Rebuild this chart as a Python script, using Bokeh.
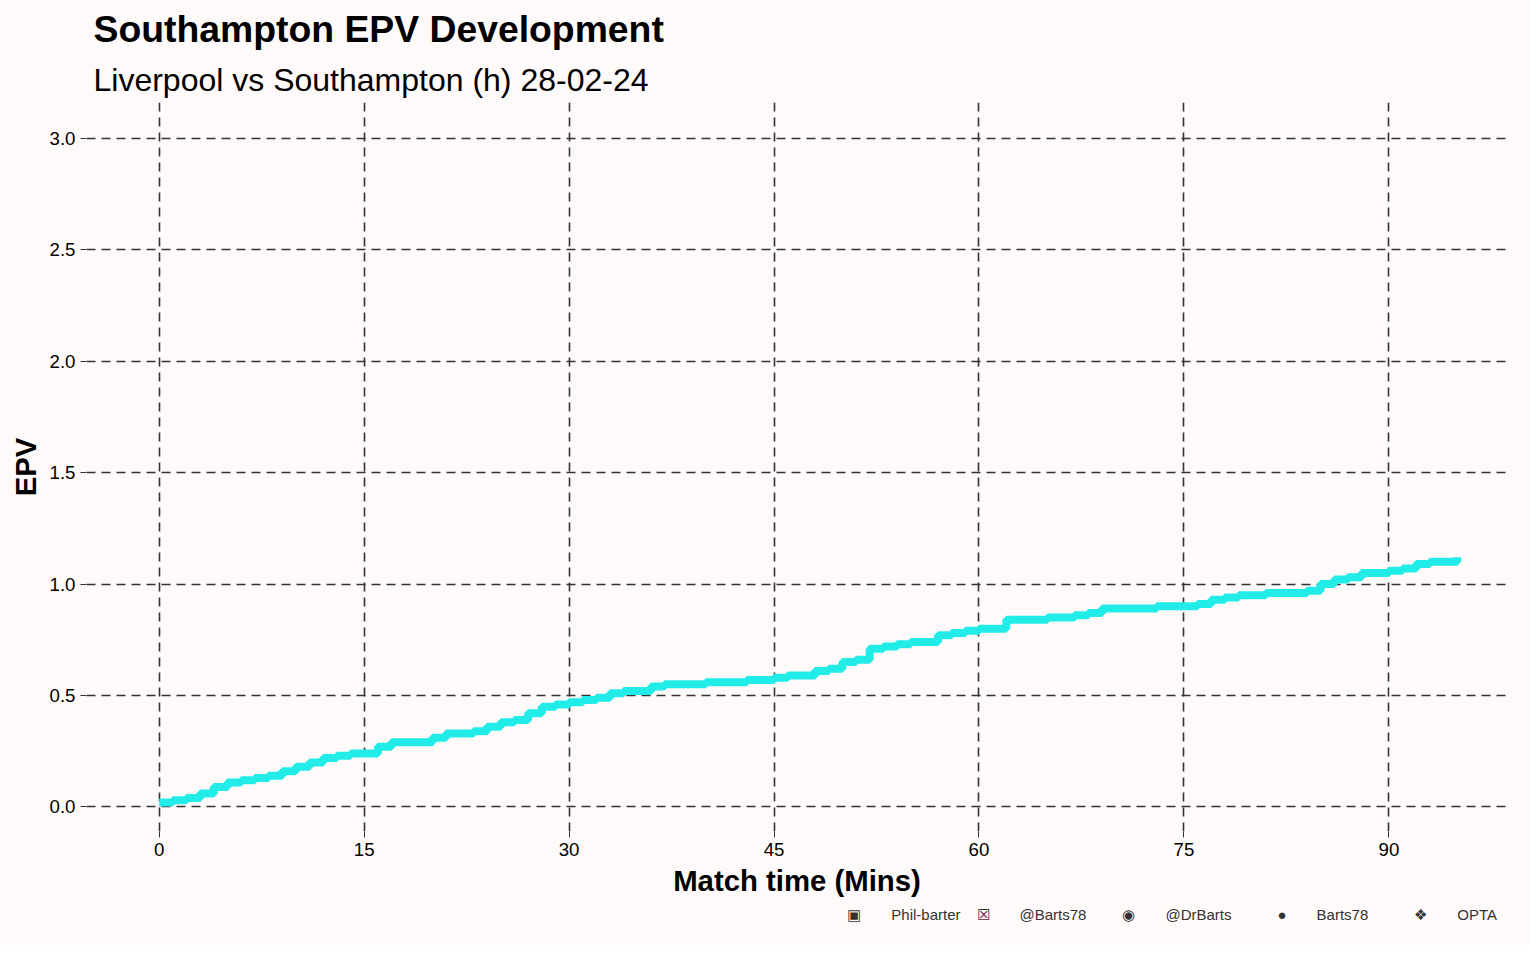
from bokeh.plotting import figure
from bokeh.models import Range1d, FixedTicker, Div, Title
from bokeh.layouts import column
from bokeh.embed import file_html
from bokeh.resources import INLINE

minutes = [0, 1, 2, 3, 4, 5, 6, 7, 8, 9, 10, 11, 12, 13, 14, 16, 17, 20, 21, 23, 24, 25, 26, 27,
           28, 29, 30, 31, 32, 33, 34, 36, 37, 40, 43, 45, 46, 48, 49, 50, 51, 52, 53, 54, 55,
           57, 58, 59, 60, 62, 65, 67, 68, 69, 73, 76, 77, 78, 79, 81, 84, 85, 86, 87, 88, 90,
           91, 92, 93, 95]
epv = [0.02, 0.03, 0.04, 0.06, 0.09, 0.11, 0.12, 0.13, 0.14, 0.16, 0.18, 0.20, 0.22, 0.23, 0.24,
       0.27, 0.29, 0.31, 0.33, 0.34, 0.36, 0.38, 0.39, 0.42, 0.45, 0.46, 0.47, 0.48, 0.49, 0.51,
       0.52, 0.54, 0.55, 0.56, 0.57, 0.58, 0.59, 0.61, 0.62, 0.65, 0.66, 0.71, 0.72, 0.73, 0.74,
       0.77, 0.78, 0.79, 0.80, 0.84, 0.85, 0.86, 0.87, 0.89, 0.90, 0.91, 0.93, 0.94, 0.95, 0.96,
       0.97, 1.00, 1.02, 1.03, 1.05, 1.06, 1.07, 1.09, 1.10, 1.12]
x_ticks = [0, 15, 30, 45, 60, 75, 90]
y_ticks = [0.0, 0.5, 1.0, 1.5, 2.0, 2.5, 3.0]

bg = "#fffafa"
font = "Liberation Sans"

p = figure(width=1520, height=899, output_backend="svg", toolbar_location=None,
           x_range=Range1d(-5.32, 98.68), y_range=Range1d(-0.11, 3.16),
           background_fill_color=bg, border_fill_color=bg, outline_line_color=None,
           min_border_left=86, min_border_right=13, min_border_top=28)

p.add_layout(Title(text="Liverpool vs Southampton (h) 28-02-24", text_font=font,
                   text_font_size="24pt", text_font_style="normal", text_color="black",
                   offset=7), "above")
p.add_layout(Title(text="Southampton EPV Development", text_font=font,
                   text_font_size="28pt", text_font_style="bold", text_color="black",
                   offset=7), "above")

p.step(minutes, epv, mode="after", line_color="#22ece8", line_width=8)

for ax in (p.xaxis, p.yaxis):
    ax.axis_line_color = None
    ax.major_tick_line_color = "#333333"
    ax.major_tick_out = 6
    ax.major_tick_in = 0
    ax.minor_tick_line_color = None
    ax.major_label_text_font = font
    ax.major_label_text_font_size = "14pt"
    ax.major_label_text_color = "black"
    ax.axis_label_text_font = font
    ax.axis_label_text_font_size = "22pt"
    ax.axis_label_text_font_style = "bold"
    ax.axis_label_text_color = "black"
p.xaxis.ticker = FixedTicker(ticks=x_ticks)
p.yaxis.ticker = FixedTicker(ticks=y_ticks)
p.yaxis.major_label_overrides = {t: f"{t:.1f}" for t in y_ticks}
p.xaxis.axis_label = "Match time (Mins)"
p.yaxis.axis_label = "EPV"

for g in (p.xgrid, p.ygrid):
    g.grid_line_color = "#333333"
    g.grid_line_dash = "9 6"
    g.grid_line_width = 1.6

footer = Div(text=(
    '<div style="width:1492px;text-align:right;font-family:Liberation Sans,Arial;'
    'font-size:15px;color:#333">'
    '<span style="margin-right:30px">&#9635;</span><span style="margin-right:16px">Phil-barter</span>'
    '<span style="margin-right:30px">&#9746;</span><span style="margin-right:36px">@Barts78</span>'
    '<span style="margin-right:30px">&#9673;</span><span style="margin-right:46px">@DrBarts</span>'
    '<span style="margin-right:30px">&#9679;</span><span style="margin-right:46px">Barts78</span>'
    '<span style="margin-right:30px">&#10070;</span><span>OPTA</span></div>'),
    width=1520, height=36, styles={"background-color": bg})

layout = column(p, footer, styles={"background-color": bg})
open("out.html", "w").write(file_html(layout, INLINE))
